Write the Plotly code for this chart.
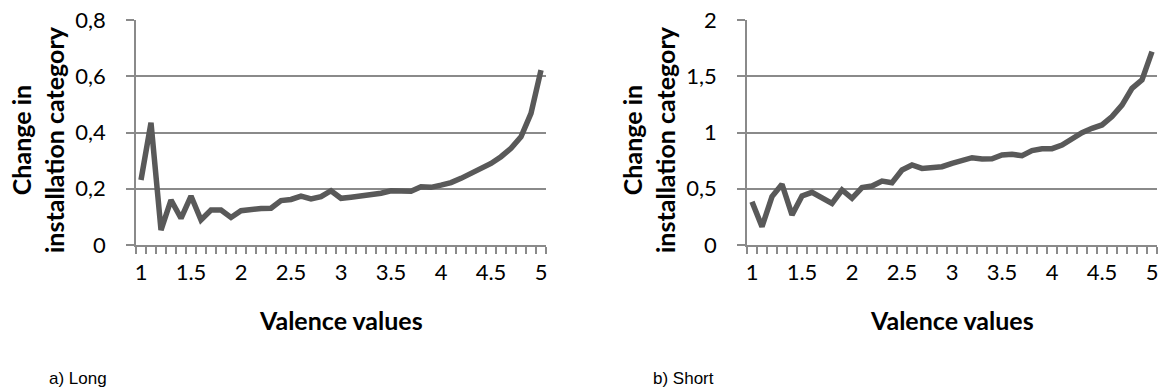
import plotly.graph_objects as go

# ---- data ----
valence = [round(1 + 0.1 * i, 1) for i in range(41)]
long_change = [0.231, 0.435, 0.053, 0.160, 0.095, 0.174, 0.089, 0.124, 0.124, 0.098,
               0.122, 0.128, 0.130, 0.131, 0.158, 0.162, 0.174, 0.164, 0.172, 0.193,
               0.166, 0.170, 0.174, 0.177, 0.184, 0.193, 0.193, 0.191, 0.207, 0.205,
               0.213, 0.222, 0.237, 0.255, 0.273, 0.290, 0.314, 0.344, 0.385, 0.468,
               0.622]
short_change = [0.385, 0.163, 0.430, 0.540, 0.267, 0.436, 0.468, 0.420, 0.370, 0.489,
                0.415, 0.510, 0.524, 0.569, 0.554, 0.667, 0.711, 0.681, 0.687, 0.696,
                0.726, 0.747, 0.776, 0.764, 0.767, 0.800, 0.806, 0.794, 0.839, 0.856,
                0.856, 0.889, 0.948, 0.999, 1.037, 1.067, 1.141, 1.244, 1.393, 1.467,
                1.719]
x_tickvals = [1, 1.5, 2, 2.5, 3, 3.5, 4, 4.5, 5]
x_ticktext = ["1", "1.5", "2", "2.5", "3", "3.5", "4", "4.5", "5"]
long_yvals = [0, 0.2, 0.4, 0.6, 0.8]
long_ytext = ["0", "0,2", "0,4", "0,6", "0,8"]
short_yvals = [0, 0.5, 1, 1.5, 2]
short_ytext = ["0", "0,5", "1", "1,5", "2"]
y_title = "Change in<br>installation category"
x_title = "Valence values"
captions = ["a) Long", "b) Short"]

W, H = 1158, 390
LINE = "#595959"
GRID = "#8a8a8a"
FONT = "Lato"
X_RANGE = [0.95, 5.05]

fig = go.Figure()
fig.add_trace(go.Scatter(x=valence, y=long_change, mode="lines",
                         line=dict(color=LINE, width=5.5), xaxis="x", yaxis="y",
                         showlegend=False, cliponaxis=False))
fig.add_trace(go.Scatter(x=valence, y=short_change, mode="lines",
                         line=dict(color=LINE, width=5.5), xaxis="x2", yaxis="y2",
                         showlegend=False, cliponaxis=False))
# invisible carriers for the label axes
fig.add_trace(go.Scatter(x=[valence[0]], y=[0], mode="markers", marker=dict(opacity=0),
                         xaxis="x3", yaxis="y", showlegend=False, hoverinfo="skip"))
fig.add_trace(go.Scatter(x=[valence[0]], y=[0], mode="markers", marker=dict(opacity=0),
                         xaxis="x4", yaxis="y2", showlegend=False, hoverinfo="skip"))

ydom = [(390 - 245) / H, (390 - 20) / H]
xdom1 = [136 / W, 546 / W]
xdom2 = [747 / W, 1157 / W]
label_pos = (390 - 257) / H

def xaxis(dom, anchor):
    # axis line + tick marks between categories (minor ticks), no labels
    return dict(domain=dom, anchor=anchor, range=X_RANGE, automargin=False,
                tickvals=x_tickvals, ticks="", showticklabels=False,
                showgrid=False, zeroline=False, showline=True,
                linecolor=GRID, linewidth=1.5,
                minor=dict(ticks="outside", tick0=0.95, dtick=0.1, ticklen=7,
                           tickcolor=GRID, tickwidth=1.5, showgrid=False),
                fixedrange=True)

def labelaxis(dom, over):
    # category labels, placed a little below the axis line
    return dict(domain=dom, overlaying=over, anchor="free", position=label_pos,
                side="bottom", range=X_RANGE, automargin=False,
                tickvals=x_tickvals, ticktext=x_ticktext, ticks="",
                ticklabeloverflow="allow", showline=False, showgrid=False,
                zeroline=False, tickfont=dict(family=FONT, size=22, color="#000"),
                fixedrange=True)

def yaxis(anchor, rng, vals, text):
    return dict(domain=ydom, anchor=anchor, range=rng, tickvals=vals, ticktext=text,
                automargin=False, ticklabelstandoff=16, ticklabeloverflow="allow",
                ticks="outside", ticklen=8, tickcolor=GRID, tickwidth=1.5,
                showgrid=True, gridcolor=GRID, gridwidth=1.5, zeroline=False,
                showline=True, linecolor=GRID, linewidth=1.5,
                tickfont=dict(family=FONT, size=22, color="#000"), fixedrange=True)

fig.update_layout(
    width=W, height=H, margin=dict(l=0, r=0, t=0, b=0, autoexpand=False),
    paper_bgcolor="white", plot_bgcolor="white",
    xaxis=xaxis(xdom1, "y"),
    yaxis=yaxis("x", [0, 0.8], long_yvals, long_ytext),
    xaxis2=xaxis(xdom2, "y2"),
    yaxis2=yaxis("x2", [0, 2], short_yvals, short_ytext),
    xaxis3=labelaxis(xdom1, "x"),
    xaxis4=labelaxis(xdom2, "x2"),
)

annots = []
for cx, ax_x in [(38, 341), (649, 952)]:
    annots.append(dict(x=cx / W, y=(390 - 140) / H, xref="paper", yref="paper",
                       text="<b>" + y_title + "</b>", textangle=-90, showarrow=False,
                       font=dict(family=FONT, size=25, color="#000"),
                       xanchor="center", yanchor="middle"))
    annots.append(dict(x=ax_x / W, y=(390 - 320) / H, xref="paper", yref="paper",
                       text="<b>" + x_title + "</b>", showarrow=False,
                       font=dict(family=FONT, size=25, color="#000"),
                       xanchor="center", yanchor="middle"))
for cx, cap in [(47, captions[0]), (651, captions[1])]:
    annots.append(dict(x=cx / W, y=(390 - 378) / H, xref="paper", yref="paper",
                       text=cap, showarrow=False,
                       font=dict(family="Liberation Sans", size=17, color="#000"),
                       xanchor="left", yanchor="middle"))
fig.update_layout(annotations=annots)

fig.write_html("out.html", config={"displayModeBar": False},
               post_script="document.body.style.margin='0';document.body.style.overflow='hidden';")
